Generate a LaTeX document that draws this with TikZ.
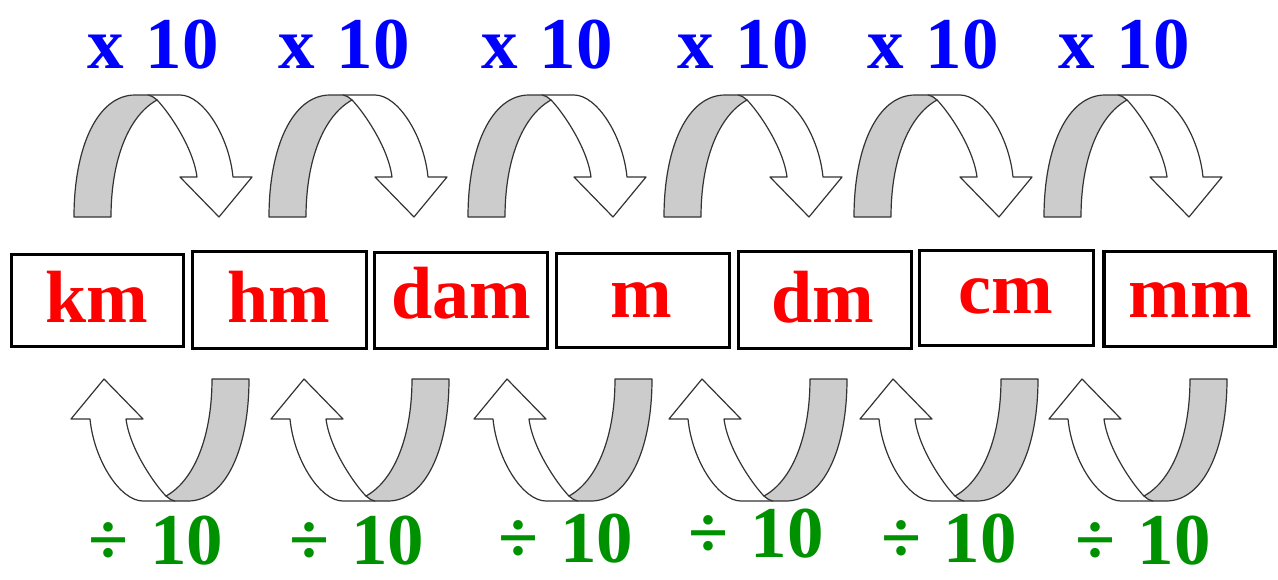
\documentclass[tikz,border=0pt]{standalone}
\usepackage{fontspec}
\setmainfont{Liberation Serif}
\definecolor{mulblue}{RGB}{0,0,255}
\definecolor{unitred}{RGB}{255,0,0}
\definecolor{divgreen}{RGB}{0,145,0}
\begin{document}
\begin{tikzpicture}[x=1pt,y=-1pt,
  arrowline/.style={draw=black!80,line width=1.2pt,line join=round},
  unitbox/.style={draw=black,line width=3.8pt,inner sep=0pt},
  unittext/.style={text=unitred,font=\fontsize{74}{74}\selectfont\bfseries,anchor=base,inner sep=0pt},
  multext/.style={text=mulblue,font=\fontsize{73}{73}\selectfont\bfseries,anchor=base,inner sep=0pt},
  divtext/.style={text=divgreen,font=\fontsize{73}{73}\selectfont\bfseries,anchor=base,inner sep=0pt,text depth=0pt},
  curlarrow/.pic={
    \filldraw[arrowline,fill=white]
      (-15,-61) -- (17,-61) .. controls (40,-61) and (66,-20) .. (70,21)
      -- (89,21) -- (56,61) -- (17,21) -- (34,21)
      .. controls (30,-10) and (4,-46) .. (-6,-56) -- cycle;
    \filldraw[arrowline,fill=black!20]
      (-89,61) -- (-52,61) .. controls (-52,5) and (-35,-40) .. (-6,-56)
      .. controls (-11,-60) .. (-15,-61) -- (-28,-61)
      .. controls (-65,-61) and (-89,-10) .. (-89,61) -- cycle;
  }]
\useasboundingbox (0,0) rectangle (1278,579);
\fill[white] (0,0) rectangle (1278,579);

% boxes
\node[unitbox,minimum width=172pt,minimum height=92pt] (kmbox) at (97.5,300.5) {};
\node[unitbox,minimum width=174pt,minimum height=97pt] (hmbox) at (279.5,300) {};
\node[unitbox,minimum width=173pt,minimum height=96pt] (dambox) at (461,300.5) {};
\node[unitbox,minimum width=173pt,minimum height=94pt] (mbox) at (643,300.5) {};
\node[unitbox,minimum width=173pt,minimum height=97pt] (dmbox) at (825,300) {};
\node[unitbox,minimum width=174pt,minimum height=95pt] (cmbox) at (1006.5,298) {};
\node[unitbox,minimum width=171pt,minimum height=95pt] (mmbox) at (1189.5,299) {};

% unit labels
\node[unittext] (km) at (97,322) {km};
\node[unittext] (hm) at (279,322) {hm};
\node[unittext] (dam) at (461,318) {dam};
\node[unittext] (m) at (641,317) {m};
\node[unittext] (dm) at (823,322) {dm};
\node[unittext] (cm) at (1006,313) {cm};
\node[unittext] (mm) at (1190,317) {mm};

% upper arrows
\foreach \cx in {163,358,557,753,943,1133}
  \pic at (\cx,156) {curlarrow};
% lower arrows
\foreach \cx in {160,360,563,758,949,1138}
  \pic[rotate=180] at (\cx,440) {curlarrow};

% multiply labels
\node[multext] (mul1) at (153,68) {x\hspace{0.3em}10};
\node[multext] (mul2) at (344,68) {x\hspace{0.3em}10};
\node[multext] (mul3) at (547,68) {x\hspace{0.3em}10};
\node[multext] (mul4) at (743,68) {x\hspace{0.3em}10};
\node[multext] (mul5) at (933,68) {x\hspace{0.3em}10};
\node[multext] (mul6) at (1124,68) {x\hspace{0.3em}10};

% divide labels
\node[divtext] (div1) at (156,564) {÷\hspace{0.3em}10};
\node[divtext] (div2) at (357,564) {÷\hspace{0.3em}10};
\node[divtext] (div3) at (566,562) {÷\hspace{0.3em}10};
\node[divtext] (div4) at (756,557) {÷\hspace{0.3em}10};
\node[divtext] (div5) at (949,562) {÷\hspace{0.3em}10};
\node[divtext] (div6) at (1143,564) {÷\hspace{0.3em}10};
\end{tikzpicture}
\end{document}
